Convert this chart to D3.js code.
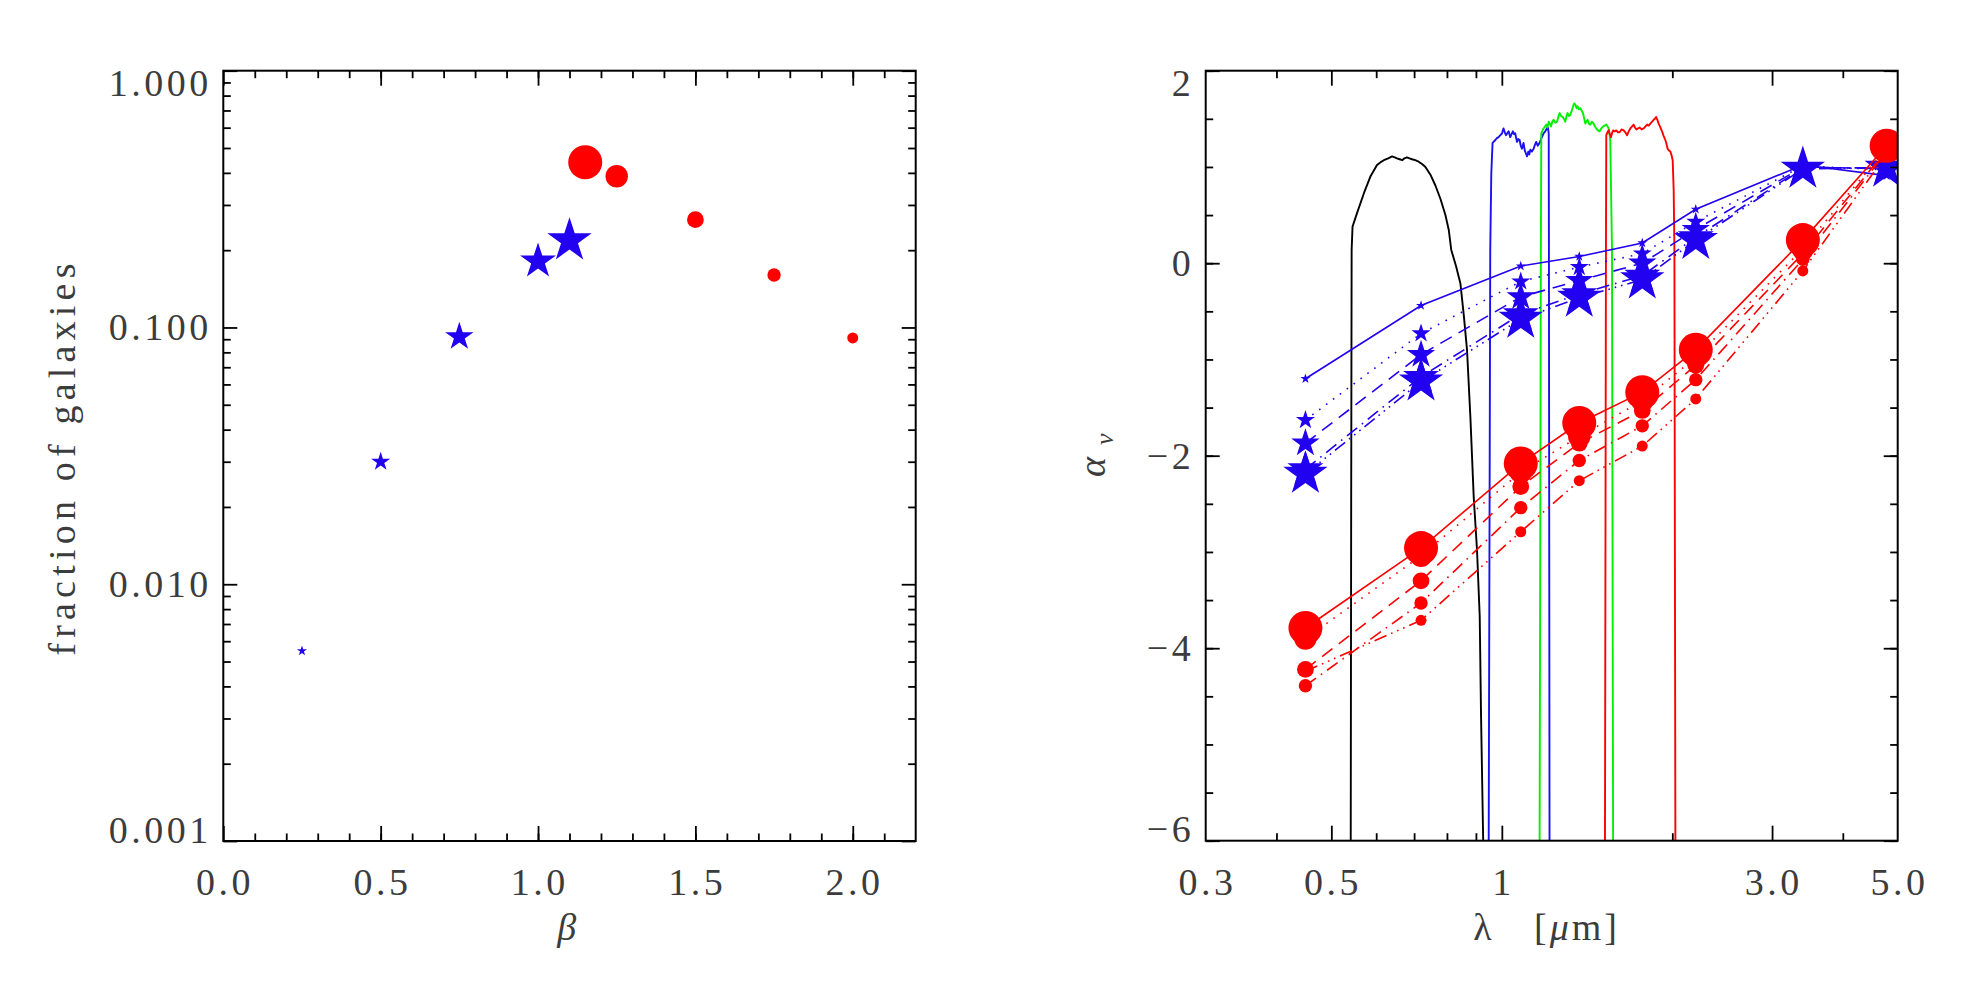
<!DOCTYPE html>
<html><head><meta charset="utf-8">
<script src="https://cdn.jsdelivr.net/npm/d3@7"></script>
<style>
body{margin:0;background:#fff}
svg{display:block}
text{font-family:"Liberation Serif","Times New Roman",serif;fill:#3c3c3c}
</style></head><body>
<svg id="c" width="1965" height="983"></svg>
<script>
// ---------------- DATA ----------------
// Left panel: fraction of galaxies vs beta
const betaStars = [0.25, 0.5, 0.75, 1.0, 1.1];
const fracStars = [0.0055, 0.030, 0.092, 0.181, 0.218];
const betaCircles = [1.15, 1.25, 1.5, 1.75, 2.0];
const fracCircles = [0.44, 0.388, 0.263, 0.160, 0.091];

// Right panel: spectral index alpha_nu vs wavelength
const bandLambda = [0.45, 0.72, 1.08, 1.37, 1.77, 2.2, 3.4, 4.78];
const alphaBlue1 = [-1.20, -0.44, -0.03, 0.07, 0.21, 0.56, 1.02, 0.91];
const alphaBlue2 = [-1.63, -0.73, -0.19, -0.04, 0.10, 0.43, 1.01, 0.97];
const alphaBlue3 = [-1.87, -0.95, -0.35, -0.18, 0.00, 0.35, 1.00, 0.98];
const alphaBlue4 = [-2.14, -1.18, -0.53, -0.32, -0.13, 0.27, 0.99, 0.99];
const alphaBlue5 = [-2.19, -1.23, -0.58, -0.36, -0.17, 0.24, 0.98, 0.99];
const alphaRed1 = [-3.79, -2.96, -2.08, -1.66, -1.34, -0.90, 0.24, 1.22];
const alphaRed2 = [-3.90, -3.04, -2.17, -1.80, -1.43, -0.98, 0.15, 1.20];
const alphaRed3 = [-4.22, -3.30, -2.32, -1.87, -1.53, -1.06, 0.10, 1.18];
const alphaRed4 = [-4.39, -3.53, -2.54, -2.05, -1.69, -1.21, 0.04, 1.16];
const alphaRed5 = [-4.24, -3.71, -2.79, -2.26, -1.90, -1.41, -0.08, 1.13];

// Filter transmission curves (lambda, scaled value)
const filterBlack = [[0.541,-6.5],[0.541,-6],[0.542,-2.46],[0.543,0.14],[0.545,0.38],[0.555,0.52],[0.571,0.73],[0.586,0.90],[0.602,1.02],[0.611,1.05],[0.619,1.07],[0.630,1.09],[0.640,1.11],[0.647,1.10],[0.653,1.09],[0.660,1.08],[0.667,1.07],[0.673,1.09],[0.680,1.10],[0.687,1.09],[0.694,1.08],[0.703,1.07],[0.713,1.055],[0.723,1.03],[0.733,1.00],[0.748,0.92],[0.763,0.81],[0.779,0.67],[0.795,0.50],[0.806,0.345],[0.814,0.14],[0.830,-0.03],[0.845,-0.21],[0.857,-0.55],[0.868,-0.90],[0.880,-1.60],[0.892,-2.43],[0.904,-2.98],[0.914,-3.67],[0.919,-4.71],[0.927,-6],[0.928,-6.5]];
const filterBlue = [[0.948,-6.5],[0.948,-6],[0.954,0.14],[0.958,0.93],[0.963,1.25],[0.974,1.28],[0.980,1.30],[0.987,1.31],[0.994,1.33],[1.001,1.35],[1.004,1.38],[1.007,1.40],[1.012,1.36],[1.017,1.33],[1.022,1.35],[1.028,1.37],[1.031,1.34],[1.035,1.31],[1.040,1.34],[1.046,1.37],[1.051,1.34],[1.056,1.35],[1.060,1.30],[1.064,1.26],[1.069,1.29],[1.075,1.28],[1.080,1.22],[1.085,1.19],[1.092,1.25],[1.098,1.17],[1.103,1.14],[1.108,1.11],[1.114,1.16],[1.118,1.13],[1.123,1.18],[1.130,1.16],[1.138,1.19],[1.144,1.23],[1.150,1.26],[1.157,1.22],[1.166,1.25],[1.175,1.30],[1.185,1.35],[1.193,1.37],[1.201,1.40],[1.206,1.41],[1.210,1.35],[1.211,0.14],[1.214,-6],[1.214,-6.5]];
const filterGreen = [[1.166,-6.5],[1.166,-6],[1.172,0.14],[1.174,1.35],[1.180,1.38],[1.185,1.40],[1.192,1.42],[1.198,1.44],[1.204,1.41],[1.210,1.47],[1.216,1.45],[1.221,1.42],[1.228,1.47],[1.234,1.49],[1.243,1.46],[1.252,1.47],[1.258,1.52],[1.265,1.56],[1.272,1.53],[1.280,1.52],[1.287,1.50],[1.294,1.47],[1.300,1.52],[1.306,1.56],[1.314,1.53],[1.321,1.54],[1.328,1.58],[1.336,1.63],[1.342,1.66],[1.348,1.65],[1.355,1.61],[1.361,1.63],[1.368,1.60],[1.376,1.61],[1.384,1.58],[1.391,1.56],[1.398,1.50],[1.404,1.45],[1.410,1.47],[1.417,1.49],[1.425,1.45],[1.433,1.44],[1.442,1.47],[1.452,1.45],[1.460,1.42],[1.468,1.40],[1.478,1.38],[1.488,1.37],[1.498,1.40],[1.509,1.42],[1.519,1.43],[1.529,1.44],[1.537,1.42],[1.544,1.40],[1.554,1.28],[1.565,0.14],[1.572,-6],[1.572,-6.5]];
const filterRed = [[1.521,-6.5],[1.521,-6],[1.527,0.14],[1.529,1.33],[1.536,1.36],[1.544,1.38],[1.551,1.34],[1.559,1.31],[1.565,1.35],[1.572,1.38],[1.582,1.37],[1.593,1.38],[1.603,1.36],[1.614,1.36],[1.627,1.39],[1.641,1.38],[1.652,1.36],[1.664,1.33],[1.675,1.37],[1.686,1.40],[1.697,1.42],[1.709,1.44],[1.718,1.41],[1.728,1.39],[1.740,1.40],[1.751,1.41],[1.765,1.39],[1.780,1.40],[1.792,1.42],[1.805,1.44],[1.817,1.43],[1.829,1.45],[1.842,1.47],[1.854,1.49],[1.863,1.50],[1.872,1.52],[1.882,1.49],[1.892,1.45],[1.905,1.41],[1.918,1.37],[1.931,1.32],[1.944,1.28],[1.953,1.24],[1.962,1.19],[1.973,1.17],[1.984,1.16],[1.994,1.12],[2.003,1.07],[2.011,0.76],[2.017,0.14],[2.025,-6],[2.025,-6.5]];

// Tick / label values
const leftXLabels = [0, 0.5, 1.0, 1.5, 2.0];
const leftYLabels = [0.001, 0.01, 0.1, 1];
const rightXLabels = [0.3, 0.5, 1, 3, 5];
const rightXLabelText = ["0.3", "0.5", "1", "3.0", "5.0"];
const rightYLabels = [-6, -4, -2, 0, 2];

// ---------------- STYLE / LAYOUT ----------------
const BLUE = "#2200f0", RED = "#ff0000";
const starRadii = [5.3, 10, 14.9, 18.9, 23.3];
const circleRadii = [17, 11.2, 8.4, 6.7, 5.5];
const dashes = [null, "1.6,7", "13,8", "13,6,1.6,6", "13,5,1.6,5,1.6,5,1.6,5"];
const L = {x0: 223.3, x1: 915.7, y0: 70.7, y1: 841};
const R = {x0: 1205.7, x1: 1897.7, y0: 70.7, y1: 840.7};
const FS = 38, LS = 3.5;
const FONT = "'Liberation Serif', 'Times New Roman', serif";

const svg = d3.select("#c");
const xL = d3.scaleLinear().domain([0, 2.2]).range([L.x0, L.x1]);
const yL = d3.scaleLog().domain([0.001, 1]).range([L.y1, L.y0]);
const xR = d3.scaleLog().domain([0.3, 5]).range([R.x0, R.x1]);
const yR = d3.scaleLinear().domain([-6, 2]).range([R.y1, R.y0]);

function ticks(P, xs, ys, xMaj, xMin, yMaj, yMin) {
  const g = svg.append("g");
  const mk = (axis, pos, vals, len) => {
    const a = g.append("g").attr("transform", pos).call(axis.tickValues(vals).tickSize(-len).tickFormat(""));
    a.select(".domain").remove();
    a.selectAll("line").attr("stroke", "#000").attr("stroke-width", 1.8);
  };
  mk(d3.axisBottom(xs), `translate(0,${P.y1})`, xMaj, 15);
  mk(d3.axisBottom(xs), `translate(0,${P.y1})`, xMin, 7.5);
  mk(d3.axisTop(xs), `translate(0,${P.y0})`, xMaj, 15);
  mk(d3.axisTop(xs), `translate(0,${P.y0})`, xMin, 7.5);
  mk(d3.axisLeft(ys), `translate(${P.x0},0)`, yMaj, 14);
  mk(d3.axisLeft(ys), `translate(${P.x0},0)`, yMin, 7.5);
  mk(d3.axisRight(ys), `translate(${P.x1},0)`, yMaj, 14);
  mk(d3.axisRight(ys), `translate(${P.x1},0)`, yMin, 7.5);
  svg.append("rect").attr("x", P.x0).attr("y", P.y0).attr("width", P.x1 - P.x0).attr("height", P.y1 - P.y0)
    .attr("fill", "none").attr("stroke", "#000").attr("stroke-width", 2);
}
const clampY = (P, y) => Math.min(Math.max(y, P.y0 + 12.6), P.y1 - 11.5);
const txt = sel => sel.attr("font-family", FONT).attr("fill", "#3c3c3c");

// ---------------- LEFT PANEL ----------------
const leftMinorX = d3.range(1, 22).map(i => i / 10);
const leftMinorY = [0.001, 0.01, 0.1].flatMap(d => d3.range(2, 10).map(k => d * k));
ticks(L, xL, yL, leftXLabels, leftMinorX, leftYLabels, leftMinorY);

svg.append("g").selectAll("text").data(leftXLabels).join("text").call(txt)
  .attr("x", d => xL(d) + LS / 2).attr("y", 895).attr("text-anchor", "middle")
  .attr("font-size", FS).style("letter-spacing", LS + "px").text(d3.format(".1f"));
svg.append("g").selectAll("text").data(leftYLabels).join("text").call(txt)
  .attr("x", 208.3 + LS).attr("y", d => clampY(L, yL(d)) + 13).attr("text-anchor", "end")
  .attr("font-size", FS).style("letter-spacing", LS + "px").text(d3.format(".3f"));
svg.append("text").call(txt).attr("transform", "translate(75,457) rotate(-90)").attr("text-anchor", "middle")
  .attr("font-size", FS).style("letter-spacing", "5.2px").text("fraction of galaxies");
svg.append("text").call(txt).attr("x", 566.7).attr("y", 940).attr("text-anchor", "middle")
  .attr("font-size", FS).attr("font-style", "italic").text("β");

const starSym = r => d3.symbol(d3.symbolStar, r * r / 0.8908)();
const circSym = r => d3.symbol(d3.symbolCircle, Math.PI * r * r)();

svg.append("g").selectAll("path").data(betaStars).join("path")
  .attr("transform", (d, i) => `translate(${xL(d)},${yL(fracStars[i])})`)
  .attr("d", (d, i) => starSym(starRadii[i])).attr("fill", BLUE);
svg.append("g").selectAll("path").data(betaCircles).join("path")
  .attr("transform", (d, i) => `translate(${xL(d)},${yL(fracCircles[i])})`)
  .attr("d", (d, i) => circSym(circleRadii[i])).attr("fill", RED);

// ---------------- RIGHT PANEL ----------------
svg.append("clipPath").attr("id", "clipR").append("rect")
  .attr("x", R.x0).attr("y", R.y0).attr("width", R.x1 - R.x0).attr("height", R.y1 - R.y0);
const plot = svg.append("g").attr("clip-path", "url(#clipR)");
const line = d3.line().x(d => xR(d[0])).y(d => yR(d[1]));

[[filterBlack, "#000"], [filterBlue, "#1a10f0"], [filterGreen, "#00f000"], [filterRed, "#ff0000"]]
  .forEach(([c, col]) => plot.append("path").attr("d", line(c)).attr("fill", "none")
    .attr("stroke", col).attr("stroke-width", 1.9).attr("stroke-linejoin", "round"));

const blueSeries = [alphaBlue1, alphaBlue2, alphaBlue3, alphaBlue4, alphaBlue5];
const redSeries = [alphaRed1, alphaRed2, alphaRed3, alphaRed4, alphaRed5];
function drawSeries(series, color, sym, radii) {
  series.forEach((vals, i) => {
    const pts = bandLambda.map((l, j) => [l, vals[j]]);
    plot.append("path").attr("d", line(pts)).attr("fill", "none").attr("stroke", color)
      .attr("stroke-width", 1.6).attr("stroke-dasharray", dashes[i]);
  });
  series.forEach((vals, i) => {
    plot.append("g").selectAll("path").data(bandLambda).join("path")
      .attr("transform", (l, j) => `translate(${xR(l)},${yR(vals[j])})`)
      .attr("d", sym(radii[i])).attr("fill", color);
  });
}
drawSeries(blueSeries, BLUE, starSym, starRadii);
drawSeries(redSeries, RED, circSym, circleRadii);

ticks(R, xR, yR, [0.5, 1, 3], [0.4, 0.6, 0.7, 0.8, 0.9, 2, 4], rightYLabels, d3.range(-6, 2.01, 0.5));

svg.append("g").selectAll("text").data(rightXLabels).join("text").call(txt)
  .attr("x", d => xR(d) + LS / 2).attr("y", 895).attr("text-anchor", "middle")
  .attr("font-size", FS).style("letter-spacing", LS + "px").text((d, i) => rightXLabelText[i]);
svg.append("g").selectAll("text").data(rightYLabels).join("text").call(txt)
  .attr("x", 1190.7 + LS).attr("y", d => clampY(R, yR(d)) + 13).attr("text-anchor", "end")
  .attr("font-size", FS).style("letter-spacing", LS + "px").text(d => d < 0 ? "\u2212" + Math.abs(d) : String(d));

const aLab = svg.append("text").call(txt).attr("transform", "translate(1105,477) rotate(-90)")
  .attr("font-size", FS);
aLab.append("tspan").attr("font-style", "italic").text("α");
aLab.append("tspan").attr("font-style", "italic").attr("font-size", 26).attr("dx", 12).attr("dy", 8).text("ν");

svg.append("text").call(txt).attr("x", 1482.5).attr("y", 940).attr("text-anchor", "middle").attr("font-size", FS).text("λ");
const mu = svg.append("text").call(txt).attr("x", 1534).attr("y", 940).attr("font-size", FS).style("letter-spacing", "3px");
mu.append("tspan").text("[");
mu.append("tspan").attr("font-style", "italic").text("μ");
mu.append("tspan").text("m]");
</script>
</body></html>
